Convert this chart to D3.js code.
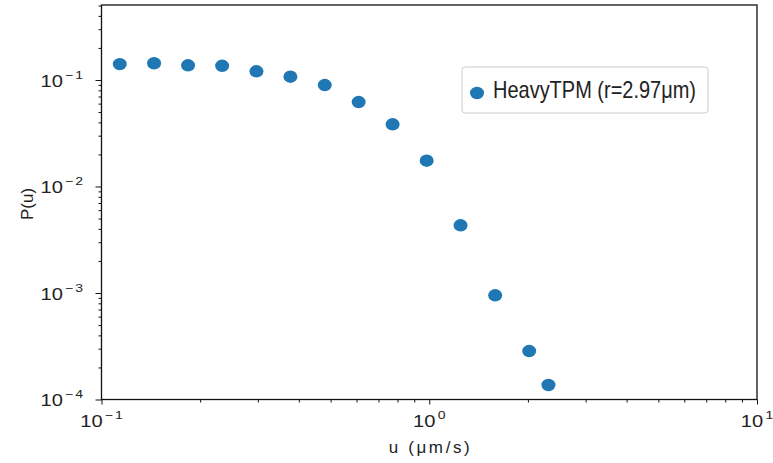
<!DOCTYPE html>
<html>
<head>
<meta charset="utf-8">
<script src="https://cdn.jsdelivr.net/npm/d3@7"></script>
<style>
  body { margin: 0; background: #fff; }
  svg { display: block; }
  text { font-family: "Liberation Sans", Arial, sans-serif; fill: #222; }
</style>
</head>
<body>
<svg id="chart"></svg>
<script>
// データ
const speeds = [0.1137, 0.1447, 0.1837, 0.2334, 0.297, 0.377, 0.480, 0.609, 0.773, 0.982, 1.246, 1.589, 2.018, 2.31];
const probs = [0.141, 0.1436, 0.1374, 0.136, 0.1207, 0.1074, 0.0897, 0.0621, 0.0384, 0.01746, 0.004325, 0.000951, 0.000285, 0.0001368];
const seriesName = "HeavyTPM (r=2.97μm)";
const xMajor = [0.1, 1, 10];
const xExp = ["−1", "0", "1"];
const yMajor = [1e-4, 1e-3, 1e-2, 1e-1];
const yExp = ["−4", "−3", "−2", "−1"];

const width = 773;
const height = 463;
const color = "#1f77b4";

const svg = d3.select("#chart")
  .attr("width", width)
  .attr("height", height);

// スケール
const x = d3.scaleLog().domain([0.1, 10]).range([101.5, 757]);
const y = d3.scaleLog().domain([1e-4, 0.506]).range([399.5, 5]);

// 副目盛り
const xMinor = [];
[0.1, 1].forEach(b => { for (let k = 2; k <= 9; k++) xMinor.push(b * k); });
const yMinor = [];
[1e-4, 1e-3, 1e-2, 1e-1].forEach(b => {
  for (let k = 2; k <= 9; k++) if (b * k <= 0.506) yMinor.push(b * k);
});

// 枠
svg.append("rect")
  .attr("x", x.range()[0]).attr("y", y.range()[1])
  .attr("width", x.range()[1] - x.range()[0])
  .attr("height", y.range()[0] - y.range()[1])
  .attr("fill", "none")
  .attr("stroke", "#111")
  .attr("stroke-width", 1.3);

// 軸（目盛り線のみ）
function drawAxis(axis, transform) {
  const g = svg.append("g").attr("transform", transform).call(axis);
  g.select(".domain").remove();
  g.selectAll(".tick line").attr("stroke", "#111").attr("stroke-width", 1);
  g.selectAll(".tick text").remove();
}
drawAxis(d3.axisBottom(x).tickValues(xMajor).tickSize(5), `translate(0,${y.range()[0]})`);
drawAxis(d3.axisBottom(x).tickValues(xMinor).tickSize(3), `translate(0,${y.range()[0]})`);
drawAxis(d3.axisLeft(y).tickValues(yMajor).tickSize(6), `translate(${x.range()[0]},0)`);
drawAxis(d3.axisLeft(y).tickValues(yMinor).tickSize(3), `translate(${x.range()[0]},0)`);

// 目盛りラベル（10のべき乗）: "10" と指数を別々に置いて幅を測る
const sx = 1.22;
function powLabel(exp) {
  const g = svg.append("g");
  const inner = g.append("g").attr("transform", `scale(${sx},1)`);
  const base = inner.append("text").attr("x", 0).attr("y", 0)
    .style("font-size", "16.5px").text("10");
  const w1 = base.node().getComputedTextLength();
  const sup = inner.append("text").attr("x", w1 + 2).attr("y", -8)
    .style("font-size", "11.5px")
    .style("letter-spacing", "1.5px")
    .text(exp);
  const w2 = sup.node().getComputedTextLength();
  return { g, width: (w1 + 2 + w2) * sx };
}
xMajor.forEach((v, i) => {
  const lab = powLabel(xExp[i]);
  lab.g.attr("transform", `translate(${x(v) - lab.width / 2 + 1},427)`);
});
yMajor.forEach((v, i) => {
  const lab = powLabel(yExp[i]);
  lab.g.attr("transform", `translate(${85 - lab.width},${y(v) + 6.7})`);
});

// 軸ラベル
svg.append("text")
  .attr("x", (x.range()[0] + x.range()[1]) / 2)
  .attr("y", 453)
  .attr("text-anchor", "middle")
  .attr("textLength", 81)
  .attr("lengthAdjust", "spacing")
  .style("font-size", "17px")
  .text("u (μm/s)");

svg.append("text")
  .attr("transform", "translate(33,204) rotate(-90)")
  .attr("text-anchor", "middle")
  .style("font-size", "17px")
  .text("P(u)");

// 散布図の点
svg.selectAll(".dot")
  .data(speeds.map((s, i) => ({ u: s, p: probs[i] })))
  .enter()
  .append("ellipse")
  .attr("class", "dot")
  .attr("cx", d => x(d.u))
  .attr("cy", d => y(d.p))
  .attr("rx", 7)
  .attr("ry", 6.2)
  .attr("fill", color);

// 凡例
const legend = svg.append("g").attr("transform", "translate(462,67)");
legend.append("rect")
  .attr("width", 246).attr("height", 46)
  .attr("rx", 3)
  .attr("fill", "#fff")
  .attr("fill-opacity", 0.8)
  .attr("stroke", "#ccc");
legend.append("ellipse")
  .attr("cx", 15).attr("cy", 26)
  .attr("rx", 7).attr("ry", 6.2)
  .attr("fill", color);
legend.append("text")
  .attr("x", 31).attr("y", 31)
  .attr("textLength", 203)
  .attr("lengthAdjust", "spacingAndGlyphs")
  .style("font-size", "24px")
  .text(seriesName);
</script>
</body>
</html>
